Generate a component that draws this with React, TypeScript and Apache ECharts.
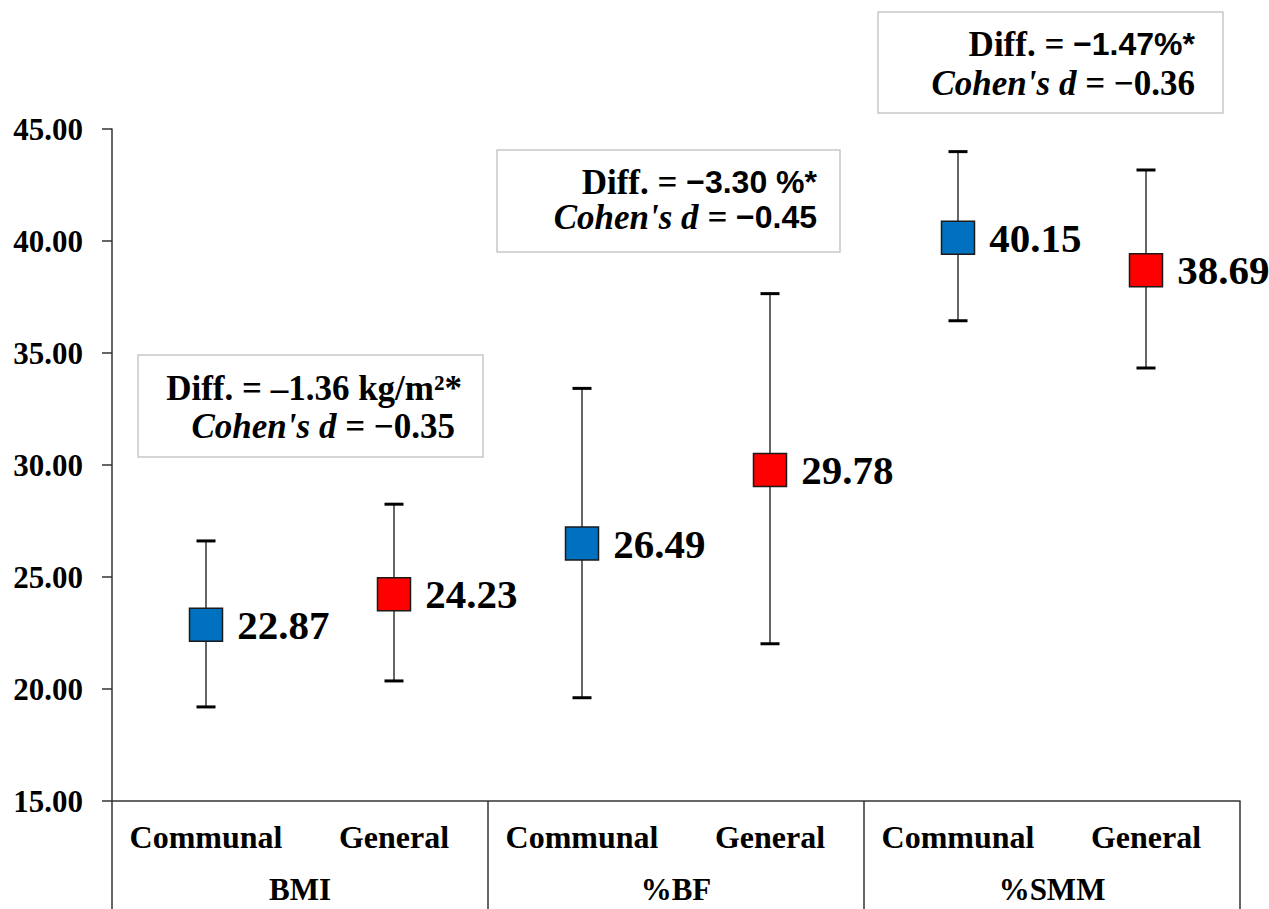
import React, { useEffect, useRef } from "react";
import * as echarts from "echarts";

const categories = ["Communal", "General", "Communal", "General", "Communal", "General"];
const groups = ["BMI", "%BF", "%SMM"];
const communalIdx = [0, 2, 4];
const generalIdx = [1, 3, 5];
const means = [22.87, 24.23, 26.49, 29.78, 40.15, 38.69];
const lower = [19.2, 20.36, 19.61, 22.02, 36.44, 34.33];
const upper = [26.61, 28.25, 33.42, 37.65, 43.99, 43.17];
const yTicks = { min: 15, max: 45, interval: 5 };

const diffLabels = ["Diff. = ", "Diff. = ", "Diff. = "];
const diffValues = ["\u20131.36 kg/m\u00b2*", "\u22123.30 %*", "\u22121.47%*"];
const cohenValues = ["\u22120.35", "\u22120.45", "\u22120.36"];

const SERIF = '"Liberation Serif", "Times New Roman", serif';
const SANS = '"Liberation Sans", Arial, sans-serif';

export default function App() {
  const ref = useRef<HTMLDivElement>(null);
  useEffect(() => {
    document.body.style.margin = "0";
    const chart = echarts.init(ref.current!, null, { renderer: "svg" });

    const errData = categories.map((_, i) => [i, lower[i], upper[i]]);
    const commData = communalIdx.map((i) => [i, means[i]]);
    const genData = generalIdx.map((i) => [i, means[i]]);

    const boxes = [
      { x: 138, y: 355, w: 345, h: 102, r1: 462, y1: 388, r2: 455, y2: 426, numFont: SERIF },
      { x: 497, y: 150, w: 343, h: 102, r1: 817, y1: 182, r2: 817, y2: 217, numFont: SANS },
      { x: 878, y: 12, w: 345, h: 101, r1: 1195, y1: 44, r2: 1195, y2: 83, numFont: SANS },
    ];

    const graphics: any[] = [];
    boxes.forEach((b, k) => {
      graphics.push({
        type: "rect",
        shape: { x: b.x, y: b.y, width: b.w, height: b.h },
        style: { fill: "#fff", stroke: "#c8c8c8", lineWidth: 1.5 },
        z: 10,
      });
      graphics.push({
        type: "text",
        x: b.r1,
        y: b.y1,
        z: 11,
        style: {
          text: `{a|${diffLabels[k]}}{b|${diffValues[k]}}`,
          align: "right",
          verticalAlign: "middle",
          rich: {
            a: { fontFamily: SERIF, fontWeight: "bold", fontSize: 35, fill: "#000" },
            b: { fontFamily: b.numFont, fontWeight: "bold", fontSize: k === 0 ? 35 : 32, fill: "#000" },
          },
        },
      });
      graphics.push({
        type: "text",
        x: b.r2,
        y: b.y2,
        z: 11,
        style: {
          text: `{a|Cohen's }{c|d}{a| = }{b|${cohenValues[k]}}`,
          align: "right",
          verticalAlign: "middle",
          rich: {
            a: { fontFamily: SERIF, fontWeight: "bold", fontStyle: "italic", fontSize: 35, fill: "#000" },
            c: { fontFamily: SERIF, fontWeight: "bold", fontStyle: "italic", fontSize: 35, fill: "#000" },
            b: { fontFamily: k === 1 ? SANS : SERIF, fontWeight: "bold", fontSize: k === 1 ? 32 : 35, fill: "#000" },
          },
        },
      });
    });

    const option: any = {
      animation: false,
      backgroundColor: "#fff",
      grid: { left: 112, right: 29, top: 129, bottom: 108 },
      xAxis: [
        {
          type: "category",
          data: categories,
          position: "bottom",
          axisLine: { show: true, lineStyle: { color: "#333", width: 1.5 } },
          axisTick: { show: false },
          axisLabel: {
            interval: 0,
            margin: 20,
            color: "#000",
            fontFamily: SERIF,
            fontWeight: "bold",
            fontSize: 32,
          },
        },
        {
          type: "category",
          data: groups,
          position: "bottom",
          axisLine: { show: false },
          axisTick: { show: true, length: 130, lineStyle: { color: "#333", width: 1.5 } },
          axisLabel: {
            interval: 0,
            margin: 72,
            lineHeight: 32,
            color: "#000",
            fontFamily: SERIF,
            fontWeight: "bold",
            fontSize: 31,
          },
        },
      ],
      yAxis: {
        type: "value",
        min: yTicks.min,
        max: yTicks.max,
        interval: yTicks.interval,
        axisLine: { show: true, lineStyle: { color: "#333", width: 1.5 } },
        axisTick: { show: true, length: 10, lineStyle: { color: "#333", width: 1.5 } },
        splitLine: { show: false },
        axisLabel: {
          formatter: (v: number) => v.toFixed(2),
          margin: 29,
          color: "#000",
          fontFamily: SERIF,
          fontWeight: "bold",
          fontSize: 31,
        },
      },
      series: [
        {
          type: "custom",
          xAxisIndex: 0,
          z: 2,
          data: errData,
          renderItem: (params: any, api: any) => {
            const x = api.value(0);
            const top = api.coord([x, api.value(2)]);
            const bot = api.coord([x, api.value(1)]);
            const half = 9.5;
            return {
              type: "group",
              children: [
                {
                  type: "line",
                  shape: { x1: top[0], y1: top[1], x2: bot[0], y2: bot[1] },
                  style: { stroke: "#666", lineWidth: 2 },
                },
                {
                  type: "line",
                  shape: { x1: top[0] - half, y1: top[1], x2: top[0] + half, y2: top[1] },
                  style: { stroke: "#000", lineWidth: 3 },
                },
                {
                  type: "line",
                  shape: { x1: bot[0] - half, y1: bot[1], x2: bot[0] + half, y2: bot[1] },
                  style: { stroke: "#000", lineWidth: 3 },
                },
              ],
            };
          },
        },
        ...[
          { name: "Communal", data: commData, color: "#0070C0" },
          { name: "General", data: genData, color: "#FF0000" },
        ].map((s) => ({
          type: "scatter",
          name: s.name,
          xAxisIndex: 0,
          z: 3,
          data: s.data,
          symbol: "rect",
          symbolSize: 33,
          itemStyle: { color: s.color, borderColor: "#1a1a1a", borderWidth: 1.5, opacity: 1 },
          label: {
            show: true,
            position: "right",
            distance: 14,
            formatter: (p: any) => p.value[1].toFixed(2),
            color: "#000",
            fontFamily: SERIF,
            fontWeight: "bold",
            fontSize: 41,
          },
        })),
      ],
      graphic: graphics,
    };
    chart.setOption(option);
    return () => chart.dispose();
  }, []);
  return <div ref={ref} style={{ width: 1269, height: 909 }} />;
}
